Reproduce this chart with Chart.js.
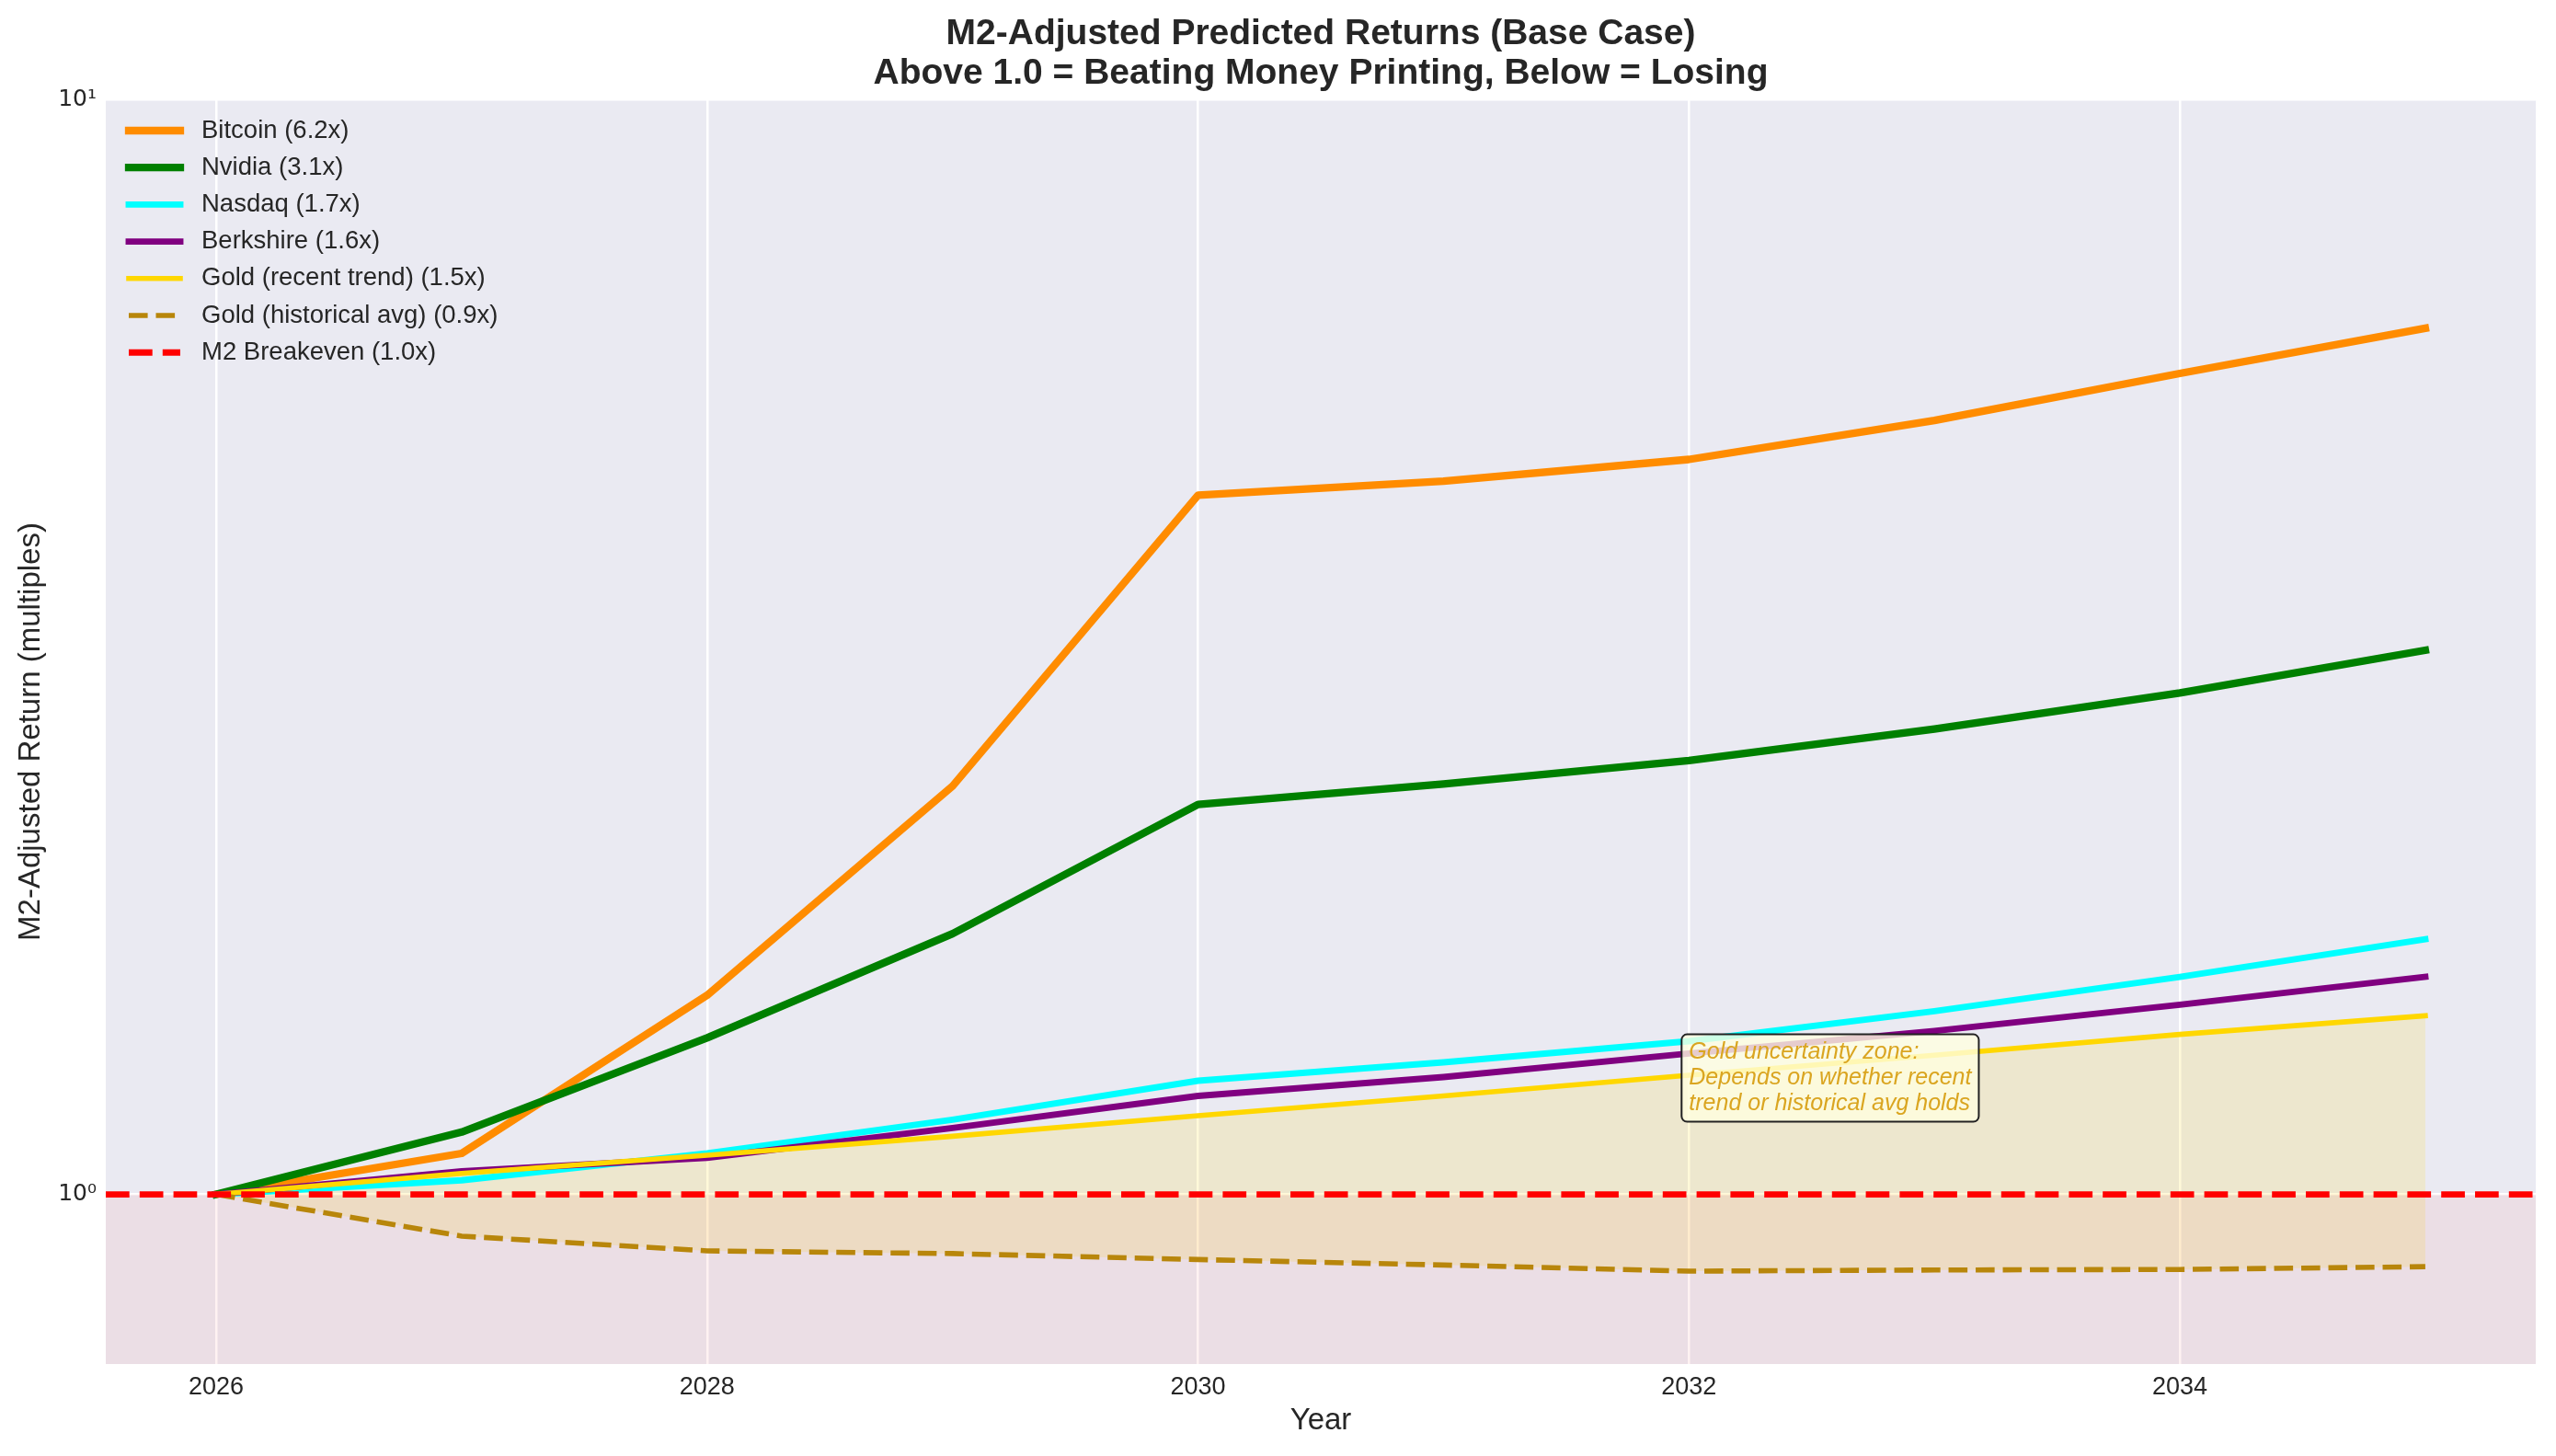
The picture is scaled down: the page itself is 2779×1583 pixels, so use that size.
<!DOCTYPE html>
<html>
<head>
<meta charset="utf-8">
<title>M2-Adjusted Predicted Returns</title>
<script src="https://cdn.jsdelivr.net/npm/chart.js@4.4.1/dist/chart.umd.min.js"></script>
<style>
  html, body { margin: 0; padding: 0; background: #fff; }
  canvas { display: block; }
</style>
</head>
<body>
<canvas id="returnsChart" width="2779" height="1583"></canvas>
<script>
// --- data (M2-adjusted multiples, base case) ---
const years = [2026, 2027, 2028, 2029, 2030, 2031, 2032, 2033, 2034, 2035];
const bitcoin = [1.00, 1.09, 1.52, 2.36, 4.35, 4.48, 4.69, 5.09, 5.62, 6.18];
const nvidia = [1.00, 1.14, 1.39, 1.73, 2.27, 2.37, 2.49, 2.66, 2.87, 3.14];
const nasdaq = [1.00, 1.03, 1.09, 1.17, 1.27, 1.32, 1.38, 1.47, 1.58, 1.71];
const berkshire = [1.00, 1.05, 1.08, 1.15, 1.23, 1.28, 1.345, 1.41, 1.49, 1.58];
const goldRecent = [1.00, 1.045, 1.086, 1.13, 1.18, 1.23, 1.285, 1.34, 1.40, 1.456];
const goldHistorical = [1.00, 0.916, 0.888, 0.883, 0.872, 0.862, 0.851, 0.853, 0.854, 0.859];
const BREAKEVEN = 1.0;

const seriesLabels = [
    'Bitcoin (6.2x)',
    'Nvidia (3.1x)',
    'Nasdaq (1.7x)',
    'Berkshire (1.6x)',
    'Gold (recent trend) (1.5x)',
    'Gold (historical avg) (0.9x)',
    'M2 Breakeven (1.0x)'
];

const xTicks = [2026, 2028, 2030, 2032, 2034];
const yTicks = [1, 10];
const yTickLabels = ['10\u2070', '10\u00B9'];
const X_MIN = 2025.55, X_MAX = 2035.45;
const Y_MIN = 0.70, Y_MAX = 10;

const titleLines = [
    'M2-Adjusted Predicted Returns (Base Case)',
    'Above 1.0 = Beating Money Printing, Below = Losing'
];
const annotationLines = [
    'Gold uncertainty zone:',
    'Depends on whether recent',
    'trend or historical avg holds'
];
const ANNOT_X = 2032, ANNOT_Y = 1.4;

const TEXT = '#262626';
const SANS = '"Liberation Sans", Arial, sans-serif';

function toPoints(values) {
    return years.map((yr, i) => ({ x: yr, y: values[i] }));
}

function lineSet(label, data, color, width, order, extra) {
    return Object.assign({
        label,
        data,
        borderColor: color,
        backgroundColor: color,
        borderWidth: width,
        pointRadius: 0,
        pointHoverRadius: 0,
        tension: 0,
        fill: false,
        borderJoinStyle: 'round',
        borderCapStyle: 'square',
        order
    }, extra || {});
}

const datasets = [
    lineSet(seriesLabels[0], toPoints(bitcoin), '#FF8C00', 8.3, 7),
    lineSet(seriesLabels[1], toPoints(nvidia), '#008000', 8.3, 6),
    lineSet(seriesLabels[2], toPoints(nasdaq), '#00FFFF', 6.9, 5),
    lineSet(seriesLabels[3], toPoints(berkshire), '#800080', 6.9, 4),
    lineSet(seriesLabels[4], toPoints(goldRecent), '#FFD700', 5.6, 3, {
        fill: { target: '+1' },
        backgroundColor: 'rgba(255, 215, 0, 0.15)'
    }),
    lineSet(seriesLabels[5], toPoints(goldHistorical), '#B8860B', 5.6, 2, {
        borderDash: [20.6, 8.9],
        borderCapStyle: 'butt'
    }),
    lineSet(seriesLabels[6], [{ x: X_MIN, y: BREAKEVEN }, { x: X_MAX, y: BREAKEVEN }], '#FF0000', 6.9, 1, {
        borderDash: [25.7, 11.1],
        borderCapStyle: 'butt'
    })
];

// background, losing zone, annotation, title and in-axes legend
const decorations = {
    id: 'decorations',
    beforeDraw(chart) {
        const { ctx, chartArea: a } = chart;
        ctx.save();
        ctx.fillStyle = '#ffffff';
        ctx.fillRect(0, 0, chart.width, chart.height);
        ctx.fillStyle = '#EAEAF2';
        ctx.fillRect(a.left, a.top, a.width, a.height);
        ctx.restore();
    },
    beforeDatasetsDraw(chart) {
        const { ctx, chartArea: a, scales: { y } } = chart;
        const yb = y.getPixelForValue(BREAKEVEN);
        ctx.save();
        ctx.fillStyle = 'rgba(255, 0, 0, 0.05)';
        ctx.fillRect(a.left, yb, a.width, a.bottom - yb);
        ctx.restore();
    },
    afterDatasetsDraw(chart) {
        const { ctx, scales: { x, y } } = chart;
        const tx = x.getPixelForValue(ANNOT_X);
        const top = y.getPixelForValue(ANNOT_Y);
        const lineH = 28;
        ctx.save();
        ctx.font = 'italic 25px ' + SANS;
        const w = Math.max(...annotationLines.map(t => ctx.measureText(t).width));
        const boxL = tx - 8, boxW = w + 16, boxH = annotationLines.length * lineH + 11;
        ctx.beginPath();
        ctx.roundRect(boxL, top, boxW, boxH, 6);
        ctx.fillStyle = 'rgba(255, 255, 224, 0.8)';
        ctx.fill();
        ctx.lineWidth = 2;
        ctx.strokeStyle = '#222222';
        ctx.stroke();
        ctx.fillStyle = '#DAA520';
        ctx.textBaseline = 'alphabetic';
        ctx.textAlign = 'left';
        annotationLines.forEach((t, i) => ctx.fillText(t, tx, top + 26 + i * lineH));
        ctx.restore();
    },
    afterDraw(chart) {
        const { ctx, chartArea: a } = chart;
        ctx.save();
        // title
        ctx.fillStyle = TEXT;
        ctx.font = 'bold 39px ' + SANS;
        ctx.textAlign = 'center';
        ctx.textBaseline = 'middle';
        const cx = (a.left + a.right) / 2;
        titleLines.forEach((t, i) => ctx.fillText(t, cx, 37 + i * 43));

        // legend (upper left, no frame)
        ctx.font = '27.5px ' + SANS;
        ctx.textAlign = 'left';
        chart.data.datasets.forEach((ds, i) => {
            const cy = a.top + 34 + i * 40.2;
            ctx.beginPath();
            ctx.setLineDash(ds.borderDash || []);
            ctx.lineCap = ds.borderDash ? 'butt' : 'square';
            ctx.lineWidth = ds.borderWidth;
            ctx.strokeStyle = ds.borderColor;
            ctx.moveTo(a.left + 25, cy);
            ctx.lineTo(a.left + 81, cy);
            ctx.stroke();
            ctx.setLineDash([]);
            ctx.fillStyle = TEXT;
            ctx.fillText(ds.label, a.left + 104, cy);
        });
        ctx.restore();
    }
};

const ctx = document.getElementById('returnsChart').getContext('2d');
const returnsChart = new Chart(ctx, {
    type: 'line',
    data: { datasets },
    options: {
        responsive: false,
        animation: false,
        devicePixelRatio: 1,
        layout: { padding: { top: 108, right: 22, left: 0, bottom: 0 } },
        plugins: {
            legend: { display: false },
            title: { display: false },
            tooltip: { enabled: false },
            filler: { drawTime: 'beforeDatasetsDraw' }
        },
        scales: {
            x: {
                type: 'linear',
                min: X_MIN,
                max: X_MAX,
                afterBuildTicks: (scale) => { scale.ticks = xTicks.map(v => ({ value: v })); },
                afterFit: (scale) => { scale.height = 100; },
                ticks: {
                    callback: (value) => String(value),
                    color: TEXT,
                    font: { family: SANS, size: 27 },
                    padding: 9,
                    maxRotation: 0,
                    autoSkip: false
                },
                grid: { color: '#ffffff', lineWidth: 2.5, drawTicks: false },
                border: { display: false },
                title: {
                    display: true,
                    text: 'Year',
                    color: TEXT,
                    font: { family: SANS, size: 33 },
                    padding: { top: 0, bottom: 18 }
                }
            },
            y: {
                type: 'logarithmic',
                min: Y_MIN,
                max: Y_MAX,
                afterBuildTicks: (scale) => { scale.ticks = yTicks.map(v => ({ value: v })); },
                afterFit: (scale) => { scale.width = 115; },
                ticks: {
                    callback: (value) => {
                        const k = yTicks.indexOf(value);
                        return k >= 0 ? yTickLabels[k] : '';
                    },
                    color: TEXT,
                    font: { family: '"DejaVu Sans", sans-serif', size: 25 },
                    padding: 10,
                    autoSkip: false
                },
                grid: { color: '#ffffff', lineWidth: 2.5, drawTicks: false },
                border: { display: false },
                title: {
                    display: true,
                    text: 'M2-Adjusted Return (multiples)',
                    color: TEXT,
                    font: { family: SANS, size: 33 },
                    padding: { top: 14, bottom: 0 }
                }
            }
        }
    },
    plugins: [decorations]
});
</script>
</body>
</html>
